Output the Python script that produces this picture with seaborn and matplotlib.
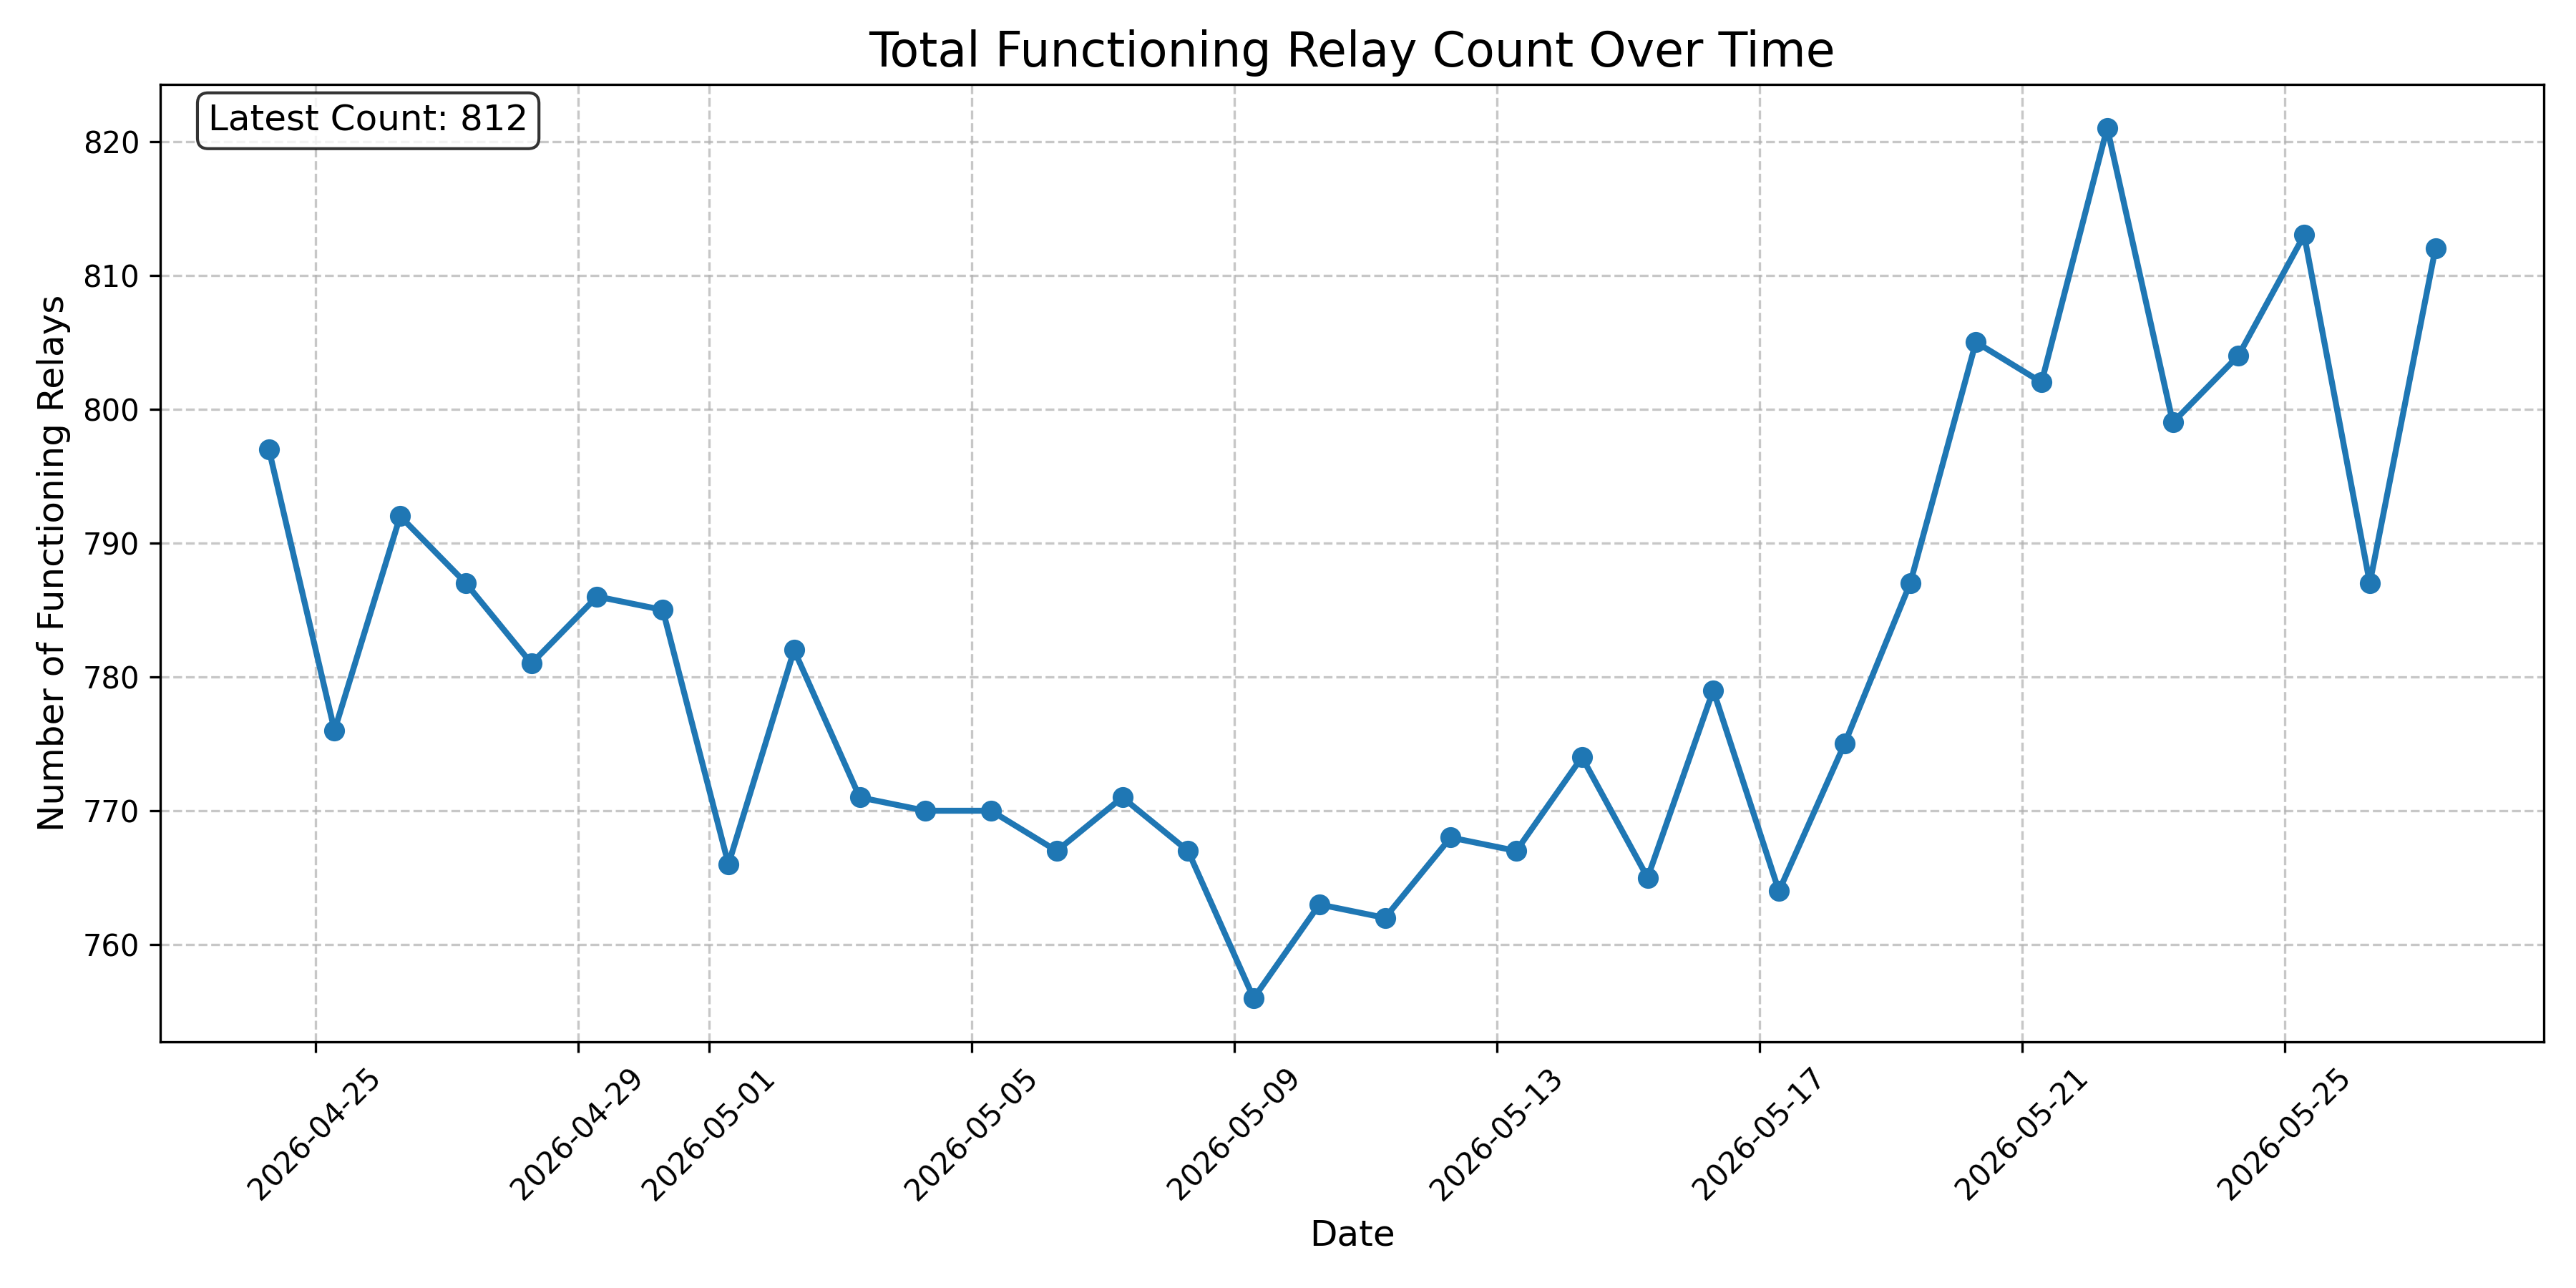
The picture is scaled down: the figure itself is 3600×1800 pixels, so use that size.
import pandas as pd
import matplotlib
matplotlib.use("Agg")
import matplotlib.pyplot as plt
import seaborn as sns

# daily snapshots, 2026-04-24 .. 2026-05-27
dates = pd.date_range("2026-04-24 07:00", periods=34, freq="D")
counts = [797, 776, 792, 787, 781, 786, 785, 766, 782, 771,
          770, 770, 767, 771, 767, 756, 763, 762, 768, 767,
          774, 765, 779, 764, 775, 787, 805, 802, 821, 799,
          804, 813, 787, 812]

df = pd.DataFrame({"date": dates, "count": counts})

fig, ax = plt.subplots(figsize=(12, 6))
sns.lineplot(data=df, x="date", y="count", ax=ax, marker="o", color="#1f77b4",
             linewidth=2, markersize=6, markeredgecolor="#1f77b4", markeredgewidth=1)

ax.set_title("Total Functioning Relay Count Over Time", fontsize=16)
ax.set_xlabel("Date", fontsize=12)
ax.set_ylabel("Number of Functioning Relays", fontsize=12)
ax.grid(True, linestyle="--", alpha=0.7)

ax.text(0.02, 0.98, f"Latest Count: {counts[-1]}", transform=ax.transAxes,
        fontsize=12, va="top",
        bbox=dict(boxstyle="round", facecolor="white", alpha=0.8))

plt.xticks(rotation=45)
plt.tight_layout()
plt.savefig("out.png", dpi=300)
